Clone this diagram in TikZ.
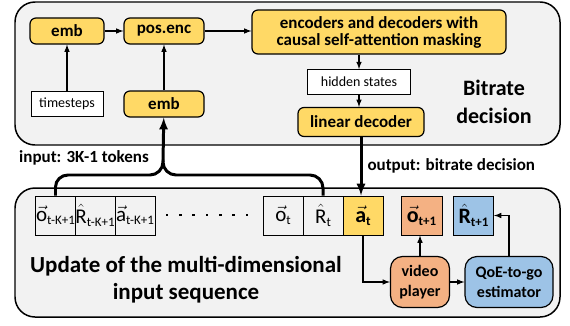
\documentclass[tikz,border=0pt]{standalone}
\usepackage{fontspec}
\setmainfont{Carlito}
\usepackage{tikz}
\usetikzlibrary{arrows,shapes}
\usetikzlibrary{calc}
\definecolor{panelgray}{HTML}{F2F2F2}
\definecolor{cellgray}{HTML}{F2F2F2}
\definecolor{yolk}{HTML}{FFD966}
\definecolor{peach}{HTML}{F4B183}
\definecolor{sky}{HTML}{9DC3E6}
\tikzstyle{panel} = [draw,line width=1.5pt,rounded corners=20bp,fill=panelgray]
\tikzstyle{block} = [draw,line width=1.2pt,rounded corners=6bp,fill=yolk,inner sep=0pt,align=center,font=\bfseries\fontsize{17bp}{19bp}\selectfont]
\tikzstyle{plainbox} = [draw,line width=0.8pt,fill=white,inner sep=0pt,font=\fontsize{14bp}{16bp}\selectfont]
\tikzstyle{cell} = [draw,line width=1pt,fill=cellgray,minimum width=40bp,minimum height=39bp,inner sep=0pt,font=\fontsize{21bp}{23bp}\selectfont]
\tikzstyle{bigcell} = [cell,font=\bfseries\fontsize{22bp}{24bp}\selectfont]
\tikzstyle{bubble} = [draw,line width=1.2pt,rounded corners=12bp,inner sep=0pt,align=center,minimum height=51bp,font=\bfseries\fontsize{16bp}{20bp}\selectfont]
\tikzstyle{label} = [font=\bfseries\fontsize{17bp}{19bp}\selectfont]
\tikzstyle{arrow} = [draw,line width=1.5pt,-latex]
\tikzstyle{bigarrow} = [draw,line width=3pt,-latex]
\tikzstyle{bigline} = [draw,line width=3pt]
\newcommand{\vtok}[2]{$\vec{\textrm{#1}}$\raisebox{-0.3ex}{\fontsize{13bp}{13bp}\selectfont #2}}
\newcommand{\htok}[2]{$\hat{\textrm{#1}}$\raisebox{-0.3ex}{\fontsize{13bp}{13bp}\selectfont #2}}
\begin{document}
\begin{tikzpicture}[x=1bp,y=1bp]
    \useasboundingbox (0,0) rectangle (570,325);
    % the two panels
    \draw[panel] (15,323) rectangle (560,180);
    \draw[panel] (15,137) rectangle (560,8);

    % bitrate decision part
    \node[block,minimum width=74bp,minimum height=26bp] (emb) at (67,294) {emb};
    \node[block,minimum width=80bp,minimum height=26bp] (posenc) at (164,294) {pos.enc};
    \node[block,minimum width=254bp,minimum height=44bp] (encdec) at (379,293)
        {encoders and decoders with\\[-2bp]causal self-attention masking};
    \node[plainbox,minimum width=72bp,minimum height=25bp] (timesteps) at (67,221) {timesteps};
    \node[block,minimum width=80bp,minimum height=26bp] (embtok) at (164,221) {emb};
    \node[plainbox,minimum width=103bp,minimum height=25bp] (hidden) at (359,243) {hidden states};
    \node[block,minimum width=126bp,minimum height=29bp] (lindec) at (361,203) {linear decoder};
    \node[align=center,font=\bfseries\fontsize{22bp}{28bp}\selectfont] (bitrate) at (494,223) {Bitrate\\decision};

    \path[arrow] (emb) -- (posenc);
    \path[arrow] (posenc.east) -- (posenc.east -| encdec.west);
    \path[arrow] (timesteps) -- (emb);
    \path[arrow] (embtok) -- (posenc);
    \path[arrow] (hidden.north |- encdec.south) -- (hidden.north);
    \path[arrow] (hidden.south) -- (hidden.south |- lindec.north);

    % input sequence
    \foreach \pos/ \name/ \txt in {{(55.5,109.5)/oa/\vtok{o}{t-K+1}},{(95,109.5)/ra/\htok{R}{t-K+1}},
        {(135,109.5)/aa/\vtok{a}{t-K+1}},{(283,109.5)/ot/\vtok{o}{t}},{(323,109.5)/rt/\htok{R}{t}}}
        \node[cell] (\name) at \pos {\txt};
    \node[bigcell,fill=yolk] (at) at (363,109.5) {\vtok{a}{t}};
    \node[bigcell,fill=peach,minimum width=41bp] (onext) at (421.5,109.5) {\vtok{o}{t+1}};
    \node[bigcell,fill=sky] (rnext) at (473.5,109.5) {\htok{R}{t+1}};
    \foreach \x in {0,...,6}
        \fill (167+\x*13.3-1.3,110-1.3) rectangle +(2.6,2.6);

    \node[bubble,fill=peach,minimum width=59bp] (player) at (420,43) {video\\player};
    \node[bubble,fill=sky,minimum width=88bp] (qoe) at (509,43) {QoE-to-go\\estimator};
    \node[align=center,font=\bfseries\fontsize{23bp}{27bp}\selectfont] (update) at (186,45)
        {Update of the multi-dimensional\\input sequence};

    \path[arrow] (at.south) |- (player.west);
    \path[arrow] (player.north) -- (player.north |- onext.south);
    \path[arrow] (player) -- (qoe);
    \path[arrow] (qoe.north) |- (rnext.east);

    % tokens in, decision out
    \coordinate (tip) at (163,163);
    \path[bigline] (oa.north) -- (55.5,138) to[out=90,in=180] (68,150) -- (150,150)
        to[out=0,in=270] (tip) to[out=270,in=180] (176,150) -- (310,150)
        to[out=0,in=90] (323,137) -- (rt.north);
    \path[bigarrow] (tip) -- (embtok);
    \path[bigarrow] (lindec.south) -- (lindec.south |- at.north);
    \node[label] (inlabel) at (84,167) {input: 3K-1 tokens};
    \node[label,anchor=west] (outlabel) at (364,159) {output: bitrate decision};
\end{tikzpicture}
\end{document}
